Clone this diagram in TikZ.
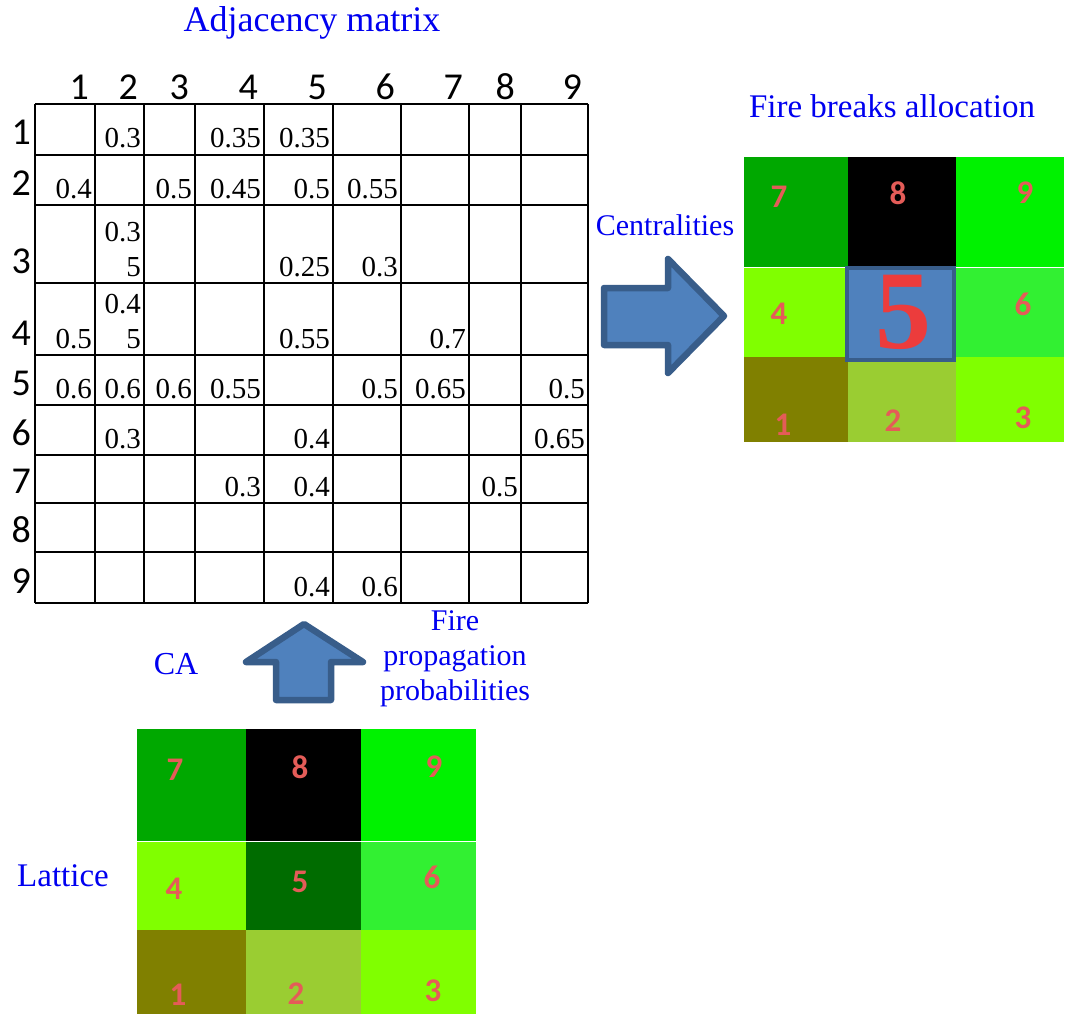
\documentclass[tikz,border=0pt]{standalone}
\usepackage{fontspec}
\setmainfont{Liberation Serif}
\newfontfamily\carl{Carlito}
\definecolor{lblue}{RGB}{0,0,240}
\definecolor{cseven}{RGB}{0,168,0}
\definecolor{cnine}{RGB}{0,242,0}
\definecolor{cfour}{RGB}{128,255,0}
\definecolor{cfivel}{RGB}{0,108,0}
\definecolor{csix}{RGB}{50,240,50}
\definecolor{cone}{RGB}{128,128,0}
\definecolor{ctwo}{RGB}{154,205,50}
\definecolor{cthree}{RGB}{128,255,0}
\definecolor{afill}{RGB}{79,129,189}
\definecolor{aline}{RGB}{56,93,138}
\definecolor{numred}{RGB}{228,92,88}
\definecolor{bigred}{RGB}{236,60,60}
\tikzset{
  lbl/.style={text=lblue, inner sep=0pt, font=\fontsize{32}{34}\selectfont},
  val/.style={anchor=base east, inner sep=0pt, font=\fontsize{29}{29}\selectfont},
  hdr/.style={anchor=base east, inner sep=0pt, font=\carl\fontsize{38}{38}\selectfont},
  gline/.style={line width=2.2pt, black},
  cnum/.style={inner sep=0pt, text=numred, font=\carl\bfseries\fontsize{33}{33}\selectfont},
  blockarrow/.style={fill=afill, draw=aline, line width=6.5pt, line join=round},
}
\begin{document}
\begin{tikzpicture}[x=1pt,y=-1pt]
\useasboundingbox (0,0) rectangle (1068,1014);
\fill[white] (0,0) rectangle (1068,1014);

% ---------- Adjacency matrix ----------
\node[lbl, font=\fontsize{36}{38}\selectfont] (title) at (312,23) {Adjacency matrix};
\def\Cs{{35,95,144,195,264,333,401,469,521,588}}
\def\Rs{{104,155,205,283,355,405,455,503,552,603}}
\foreach \x in {35,95,144,195,264,333,401,469,521,588}
  \draw[gline] (\x,104) -- (\x,603);
\foreach \y in {104,155,205,283,355,405,455,503,552,603}
  \draw[gline] (35,\y) -- (588,\y);
% column headers
\foreach \c in {1,...,9} {
  \pgfmathsetmacro\xr{\Cs[\c]-6}
  \node[hdr] (h\c) at (\xr,100) {\c};
}
% row labels
\foreach \r in {1,...,9} {
  \pgfmathsetmacro\yb{\Rs[\r]-10}
  \node[hdr] (r\r) at (31,\yb) {\r};
}
% values
\foreach \r/\c/\t in {1/2/0.3,1/4/0.35,1/5/0.35,
  2/1/0.4,2/3/0.5,2/4/0.45,2/5/0.5,2/6/0.55,
  3/5/0.25,3/6/0.3,
  4/1/0.5,4/5/0.55,4/7/0.7,
  5/1/0.6,5/2/0.6,5/3/0.6,5/4/0.55,5/6/0.5,5/7/0.65,5/9/0.5,
  6/2/0.3,6/5/0.4,6/9/0.65,
  7/4/0.3,7/5/0.4,7/8/0.5,
  9/5/0.4,9/6/0.6} {
  \pgfmathsetmacro\xr{\Cs[\c]-3}
  \pgfmathsetmacro\yb{\Rs[\r]-7}
  \node[val] (v\r-\c) at (\xr,\yb) {\t};
}
\node[val] (v3-2a) at (141,241) {0.3};
\node[val] (v3-2b) at (141,276) {5};
\node[val] (v4-2a) at (141,313) {0.4};
\node[val] (v4-2b) at (141,348) {5};

% ---------- Centralities arrow ----------
\node[lbl, font=\fontsize{30}{32}\selectfont] (cent) at (665,225) {Centralities};
\draw[blockarrow] (604,288) -- (668,288) -- (668,259) -- (724,316) -- (668,373) -- (668,345) -- (604,345) -- cycle;

% ---------- Fire breaks allocation ----------
\node[lbl, font=\fontsize{33}{35}\selectfont] (fba) at (892,106) {Fire breaks allocation};
\fill[cseven] (744,157) rectangle (848,267);
\fill[black] (848,157) rectangle (956,267);
\fill[cnine] (956,157) rectangle (1064,267);
\fill[cfour] (744,267) rectangle (848,357);
\fill[csix] (956,267) rectangle (1064,357);
\fill[cone] (744,357) rectangle (848,442);
\fill[ctwo] (848,357) rectangle (956,442);
\fill[cthree] (956,357) rectangle (1064,442);
\draw[white, line width=0.8pt] (744,267) -- (1064,267);
\draw[fill=afill, draw=aline, line width=4.5pt] (847,268) rectangle (954,360);
\node[cnum] (f7) at (779,197) {7};
\node[cnum] (f8) at (898,193) {8};
\node[cnum] (f9) at (1025,193) {9};
\node[cnum] (f4) at (779,314) {4};
\node[inner sep=0pt, text=bigred, font=\bfseries\fontsize{112}{112}\selectfont] (f5) at (903,312) {5};
\node[cnum] (f6) at (1023,304) {6};
\node[cnum] (f1) at (783,425) {1};
\node[cnum] (f2) at (893,421) {2};
\node[cnum] (f3) at (1023,418) {3};

% ---------- CA arrow ----------
\node[lbl] (ca) at (176,664) {CA};
\node[lbl, align=center, font=\fontsize{30}{35}\selectfont] (fpp) at (455,659) {Fire\\propagation\\probabilities};
\draw[blockarrow] (304,624) -- (363,662) -- (331,662) -- (331,700) -- (276,700) -- (276,662) -- (246,662) -- cycle;

% ---------- Lattice ----------
\node[lbl, font=\fontsize{33}{35}\selectfont] (lat) at (63,876) {Lattice};
\fill[cseven] (137,729) rectangle (246,841);
\fill[black] (246,729) rectangle (361,841);
\fill[cnine] (361,729) rectangle (476,841);
\fill[cfour] (137,841) rectangle (246,930);
\fill[cfivel] (246,841) rectangle (361,930);
\fill[csix] (361,841) rectangle (476,930);
\fill[cone] (137,930) rectangle (246,1014);
\fill[ctwo] (246,930) rectangle (361,1014);
\fill[cthree] (361,930) rectangle (476,1014);
\draw[white, line width=0.8pt] (137,841) -- (476,841);
\node[cnum] (l7) at (175,770) {7};
\node[cnum] (l8) at (300,767) {8};
\node[cnum] (l9) at (434,767) {9};
\node[cnum] (l4) at (174,889) {4};
\node[cnum] (l5) at (300,882) {5};
\node[cnum] (l6) at (432,877) {6};
\node[cnum] (l1) at (178,995) {1};
\node[cnum] (l2) at (296,994) {2};
\node[cnum] (l3) at (433,991) {3};
\end{tikzpicture}
\end{document}
